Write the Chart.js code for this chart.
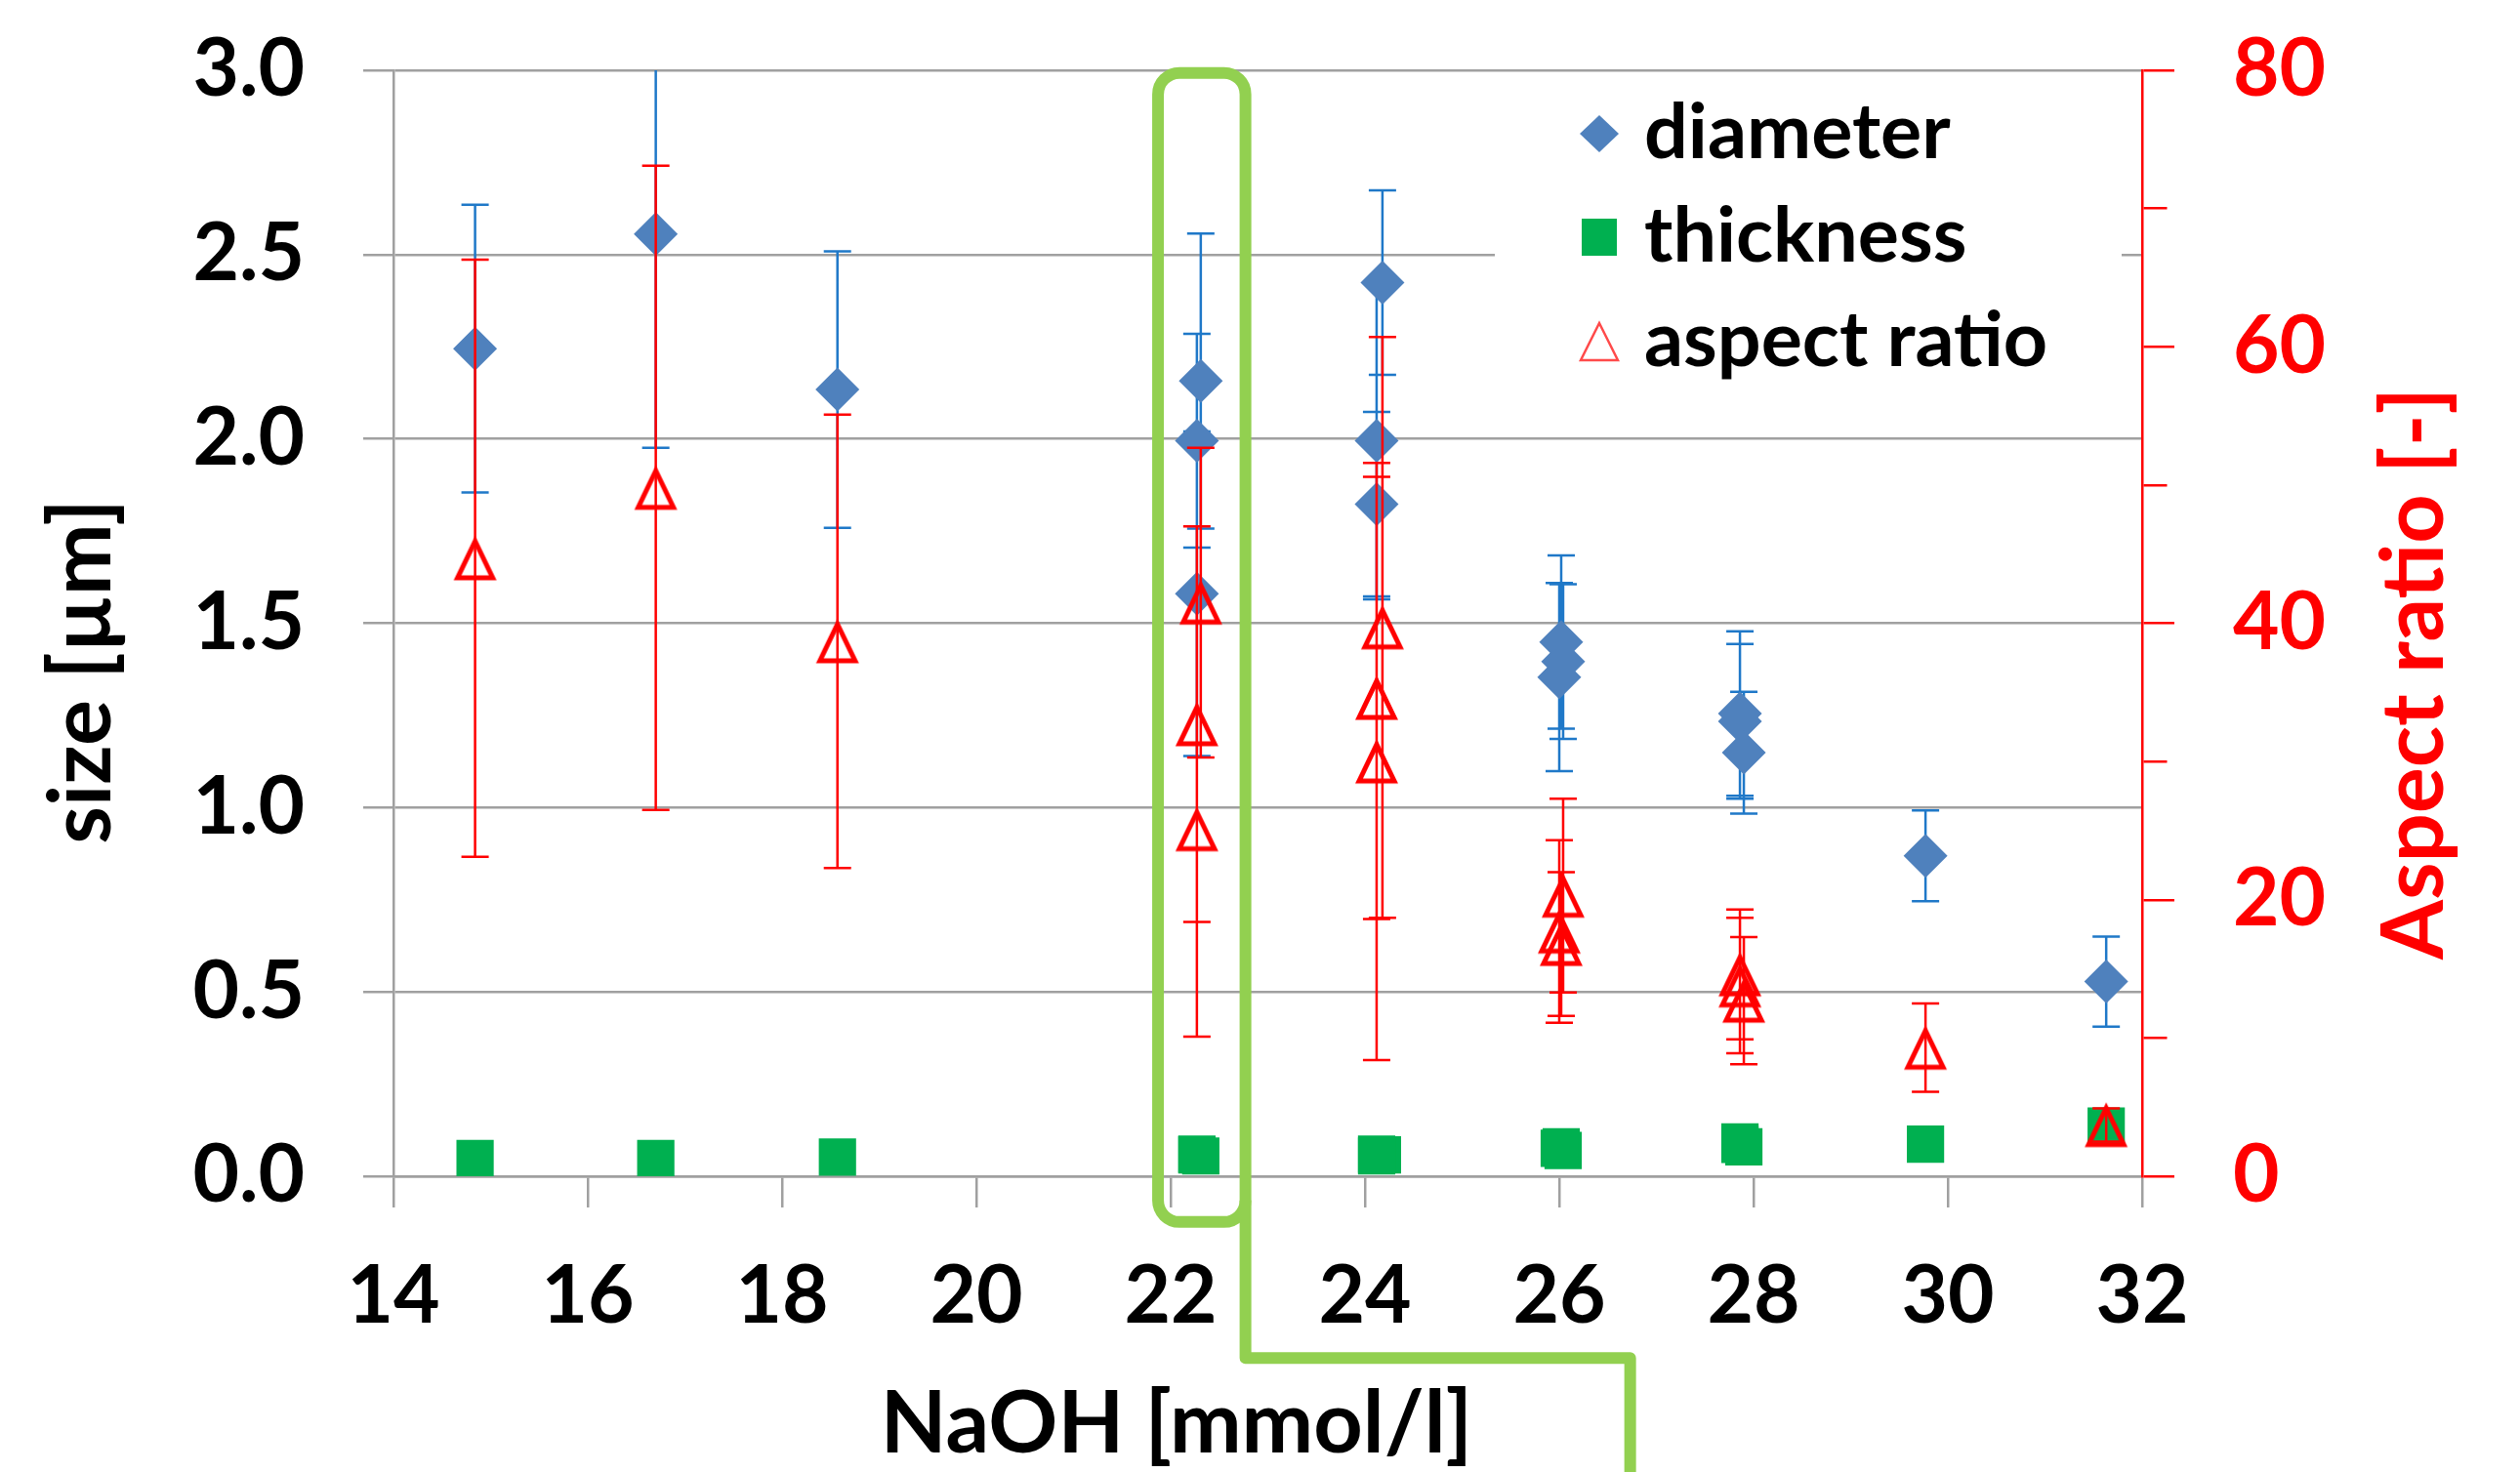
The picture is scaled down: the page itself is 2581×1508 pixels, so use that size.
<!DOCTYPE html>
<html>
<head>
<meta charset="utf-8">
<title>size vs NaOH</title>
<script src="https://cdn.jsdelivr.net/npm/chart.js@4.4.0/dist/chart.umd.min.js"></script>
<style>
  html, body { margin: 0; padding: 0; background: #fff; }
  #wrap { width: 2581px; height: 1508px; position: relative; }
</style>
</head>
<body>
<div id="wrap"><canvas id="chart"></canvas></div>
<script>
// one entry per sample, NaOH in mmol/l
const naoh        = [14.84, 16.70, 18.57, 22.31, 22.27, 22.27, 24.18, 24.12, 24.12, 26.04, 26.02, 26.00, 27.86, 27.86, 27.90, 29.77, 31.63];
const diameter    = [2.245, 2.556, 2.134, 2.157, 1.995, 1.580, 2.424, 1.995, 1.823, 1.396, 1.449, 1.354, 1.255, 1.234, 1.149, 0.869, 0.528];
const diameterErr = [0.39, 0.58, 0.375, 0.40, 0.29, 0.44, 0.25, 0.43, 0.25, 0.21, 0.235, 0.255, 0.223, 0.21, 0.165, 0.123, 0.122];
const thickness   = [0.048, 0.048, 0.052, 0.055, 0.060, 0.058, 0.058, 0.055, 0.060, 0.070, 0.080, 0.076, 0.086, 0.093, 0.080, 0.087, 0.136];
const aspectRatio = [44.7, 49.8, 38.7, 41.5, 32.7, 25.1, 39.7, 34.6, 30.0, 20.3, 16.8, 17.7, 14.6, 13.8, 12.7, 9.3, 3.7];
const aspectErr   = [21.6, 23.3, 16.4, 11.2, 14.3, 15.0, 21.0, 16.0, 21.6, 7.0, 5.2, 6.6, 4.7, 4.9, 4.6, 3.2, 1.2];

// axis ticks
const naohTicks  = [14, 16, 18, 20, 22, 24, 26, 28, 30, 32];
const sizeTicks  = [0, 0.5, 1.0, 1.5, 2.0, 2.5, 3.0];
const ratioTicks = [0, 10, 20, 30, 40, 50, 60, 70, 80];

// green highlight around the 22 mmol/l group (data units: x, size)
const boxX = [21.87, 22.77];
const boxY = [2.993, -0.124];
const leadY = -0.493;
const leadX = 26.73;

const FONT = "Lato";
const GRAY = "#a0a0a0";
const RED = "#ff0000";

function pts(ys) {
    return naoh.map((x, i) => ({ x: x, y: ys[i] }));
}

function tickList(arr) {
    return function (scale) {
        scale.ticks = arr.map(v => ({ value: v }));
    };
}

// fixed axis widths; drop the label overhang so the plot top stays put
function fixWidth(w) {
    return function (s) {
        s.width = w;
        s.paddingTop = 0;
        s.paddingBottom = 0;
    };
}

// open triangle, centred on its bounding box like the office marker
function triangleMarker() {
    const c = document.createElement("canvas");
    c.width = 60;
    c.height = 60;
    const g = c.getContext("2d");
    g.strokeStyle = RED;
    g.lineWidth = 5;
    g.lineJoin = "miter";
    g.beginPath();
    g.moveTo(30, 30 - 17.5);
    g.lineTo(30 + 18, 30 + 20);
    g.lineTo(30 - 18, 30 + 20);
    g.closePath();
    g.stroke();
    return c;
}

const errorBars = {
    id: "errorBars",
    beforeDatasetDraw(chart, args) {
        const ds = chart.data.datasets[args.index];
        if (!ds.err) return;
        const xs = chart.scales.x;
        const ys = chart.scales[ds.yAxisID];
        const a = chart.chartArea;
        const ctx = chart.ctx;
        ctx.save();
        ctx.beginPath();
        ctx.rect(a.left, a.top, a.right - a.left, a.bottom - a.top);
        ctx.clip();
        ctx.strokeStyle = ds.errColor;
        ctx.lineWidth = 2.5;
        ctx.beginPath();
        ds.data.forEach((p, i) => {
            const px = xs.getPixelForValue(p.x);
            const hi = ys.getPixelForValue(p.y + ds.err[i]);
            const lo = ys.getPixelForValue(p.y - ds.err[i]);
            ctx.moveTo(px, hi); ctx.lineTo(px, lo);
            ctx.moveTo(px - 14, hi); ctx.lineTo(px + 14, hi);
            ctx.moveTo(px - 14, lo); ctx.lineTo(px + 14, lo);
        });
        ctx.stroke();
        ctx.restore();
    }
};

const legendBox = { left: 1531, top: 88, right: 2173, bottom: 420 };

const decorations = {
    id: "decorations",
    beforeDatasetsDraw(chart) {
        // legend sits on a white patch over the grid
        const ctx = chart.ctx;
        ctx.save();
        ctx.fillStyle = "#fff";
        ctx.fillRect(legendBox.left, legendBox.top, legendBox.right - legendBox.left, legendBox.bottom - legendBox.top);
        ctx.restore();
    },
    afterDraw(chart) {
        const ctx = chart.ctx;
        const xs = chart.scales.x;
        const ys = chart.scales.y;

        // legend
        ctx.save();
        const rows = [137, 243, 350];
        const mx = 1638;
        ctx.font = "bold 79px " + FONT;
        ctx.fillStyle = "#000";
        ctx.textBaseline = "alphabetic";
        chart.data.datasets.forEach((ds, i) => {
            const cy = rows[i];
            if (ds.label === "diameter") {
                ctx.fillStyle = "#4f81bd";
                ctx.beginPath();
                ctx.moveTo(mx - 20, cy); ctx.lineTo(mx, cy - 19);
                ctx.lineTo(mx + 20, cy); ctx.lineTo(mx, cy + 19);
                ctx.closePath();
                ctx.fill();
            } else if (ds.label === "thickness") {
                ctx.fillStyle = "#00b050";
                ctx.fillRect(mx - 18, cy - 19, 36, 38);
            } else {
                ctx.strokeStyle = "#ff4a4a";
                ctx.lineWidth = 2.5;
                ctx.beginPath();
                ctx.moveTo(mx, cy - 19); ctx.lineTo(mx + 19, cy + 19);
                ctx.lineTo(mx - 19, cy + 19);
                ctx.closePath();
                ctx.stroke();
            }
            ctx.fillStyle = "#000";
            ctx.fillText(ds.label, 1684, cy + 25);
        });
        ctx.restore();

        // axis titles
        ctx.save();
        ctx.font = "bold 88px " + FONT;
        ctx.textAlign = "center";
        ctx.textBaseline = "alphabetic";
        ctx.fillStyle = "#000";
        ctx.fillText("NaOH [mmol/l]", 1205, 1488);

        ctx.save();
        ctx.translate(113, 688);
        ctx.rotate(-Math.PI / 2);
        ctx.fillText("size [µm]", 0, 0);
        ctx.restore();

        ctx.save();
        ctx.fillStyle = RED;
        ctx.translate(2502, 690);
        ctx.rotate(-Math.PI / 2);
        ctx.fillText("Aspect ratio [-]", 0, 0);
        ctx.restore();
        ctx.restore();

        // green highlight frame and its lead line
        const l = xs.getPixelForValue(boxX[0]);
        const r = xs.getPixelForValue(boxX[1]);
        const t = ys.getPixelForValue(boxY[0]);
        const b = ys.getPixelForValue(boxY[1]);
        ctx.save();
        ctx.strokeStyle = "#92d050";
        ctx.lineWidth = 12;
        ctx.lineJoin = "round";
        ctx.beginPath();
        ctx.roundRect(l, t, r - l, b - t, 22);
        ctx.stroke();
        ctx.beginPath();
        ctx.moveTo(r, b - 22);
        ctx.lineTo(r, ys.getPixelForValue(leadY));
        ctx.lineTo(xs.getPixelForValue(leadX), ys.getPixelForValue(leadY));
        ctx.lineTo(xs.getPixelForValue(leadX), chart.height + 10);
        ctx.stroke();
        ctx.restore();
    }
};

function createChart() {
    const tickFont = { family: FONT, weight: "bold", size: 82 };
    const ctx = document.getElementById("chart");

    new Chart(ctx, {
        type: "scatter",
        data: {
            datasets: [
                {
                    label: "diameter",
                    data: pts(diameter),
                    yAxisID: "y",
                    pointStyle: "rectRot",
                    pointRadius: 22.5,
                    pointHoverRadius: 22.5,
                    pointBackgroundColor: "#4f81bd",
                    pointBorderColor: "#4f81bd",
                    pointBorderWidth: 0,
                    err: diameterErr,
                    errColor: "#1f78c8",
                    order: 3
                },
                {
                    label: "thickness",
                    data: pts(thickness),
                    yAxisID: "y",
                    pointStyle: "rect",
                    pointRadius: 27,
                    pointHoverRadius: 27,
                    pointBackgroundColor: "#00b050",
                    pointBorderColor: "#00b050",
                    pointBorderWidth: 0,
                    order: 2
                },
                {
                    label: "aspect ratio",
                    data: pts(aspectRatio),
                    yAxisID: "y2",
                    pointStyle: triangleMarker(),
                    pointRadius: 22,
                    pointHoverRadius: 22,
                    pointBackgroundColor: "rgba(0,0,0,0)",
                    pointBorderColor: RED,
                    err: aspectErr,
                    errColor: RED,
                    order: 1
                }
            ]
        },
        options: {
            responsive: true,
            maintainAspectRatio: false,
            animation: false,
            layout: { padding: { top: 72, left: 0, right: 0, bottom: 0 } },
            plugins: {
                legend: { display: false },
                tooltip: { enabled: false }
            },
            scales: {
                x: {
                    type: "linear",
                    min: 14,
                    max: 32,
                    afterBuildTicks: tickList(naohTicks),
                    afterFit: (s) => { s.height = 303; },
                    grid: { drawOnChartArea: false, color: GRAY, lineWidth: 2.5, tickLength: 32 },
                    border: { color: GRAY, width: 2.5 },
                    ticks: { font: tickFont, color: "#000", padding: 42, maxRotation: 0, autoSkip: false }
                },
                y: {
                    type: "linear",
                    position: "left",
                    min: 0,
                    max: 3,
                    afterBuildTicks: tickList(sizeTicks),
                    afterFit: fixWidth(403),
                    grid: { color: GRAY, lineWidth: 2.5, tickLength: 31 },
                    border: { color: GRAY, width: 2.5 },
                    ticks: { font: tickFont, color: "#000", padding: 60, autoSkip: false, callback: (v) => Number(v).toFixed(1) }
                },
                y2: {
                    type: "linear",
                    position: "right",
                    min: 0,
                    max: 80,
                    afterBuildTicks: tickList(ratioTicks),
                    afterFit: fixWidth(387),
                    grid: {
                        drawOnChartArea: false,
                        color: RED,
                        lineWidth: 2.5,
                        tickLength: 33,
                        // minor ticks (10, 30, ...) are shorter
                        tickBorderDash: (c) => (c.tick && c.tick.value % 20) ? [24, 200] : []
                    },
                    border: { color: RED, width: 2.5 },
                    ticks: { font: tickFont, color: RED, padding: 60, autoSkip: false, callback: (v) => (v % 20 ? "" : v) }
                }
            }
        },
        plugins: [errorBars, decorations]
    });
}

document.fonts.load("bold 80px " + FONT).then(createChart, createChart);
</script>
</body>
</html>
